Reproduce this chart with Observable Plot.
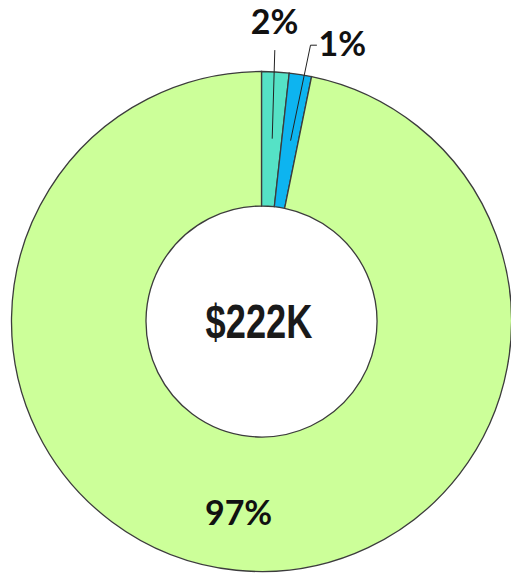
<!DOCTYPE html>
<html><head><meta charset="utf-8">
<script src="https://cdn.jsdelivr.net/npm/d3@7"></script>
<script src="https://cdn.jsdelivr.net/npm/@observablehq/plot@0.6"></script>
<style>html,body{margin:0;padding:0;background:#fff;overflow:hidden}</style>
</head><body><div id="chart"></div>
<script>
// ---- data ----
const categories = ["Segment A", "Segment B", "Segment C"];
const shares = [1.77, 1.44, 96.79];           // percent of total
const colors = ["#55e2c6", "#0db4f0", "#ccff99"];
const totalLabel = "$222K";

// ---- layout ----
const W = 511, H = 573;
const cx = 261.5, cy = 321.5, R = 250, r = 115.5;

const data = categories.map((c, i) => ({cat: c, value: shares[i], label: Math.round(shares[i]) + "%"}));
const color = Plot.scale({color: {type: "ordinal", domain: categories, range: colors}});
const pie = d3.pie().value(d => d.value).sort(null)(data);
const arc = d3.arc().innerRadius(r).outerRadius(R);
const mid = p => (p.startAngle + p.endAngle) / 2;
const polar = (a, rad) => [cx + rad * Math.sin(a), cy - rad * Math.cos(a)];

function donut() {
  const g = d3.create("svg:g").attr("transform", `translate(${cx},${cy})`);
  g.selectAll("path").data(pie).join("path")
    .attr("d", arc)
    .attr("fill", d => color.apply(d.data.cat))
    .attr("stroke", "#3c3c3c")
    .attr("stroke-width", 1.3);
  return g.node();
}

// big slice label near its centroid, small slices labelled above with leaders
const big = pie[2];
const [bx, by] = polar(mid(big), 193);
const innerLabels = [{x: bx, y: by, text: big.data.label}];

const a0 = polar(mid(pie[0]), 184);
const a1 = polar(mid(pie[1]), 184);
const leaders = [
  {id: 0, x: a0[0], y: a0[1]}, {id: 0, x: 274.3, y: 50},
  {id: 1, x: a1[0], y: a1[1]}, {id: 1, x: 310, y: 44.7}, {id: 1, x: 316, y: 44.7}
];
const outerLabels = [
  {x: 274, y: 23, text: pie[0].data.label, anchor: "middle"},
  {x: 318, y: 45, text: pie[1].data.label, anchor: "start"}
];

const pctFont = {fontFamily: "Lato", fontWeight: "bold", fontSize: 34, fill: "#111"};

const chart = Plot.plot({
  width: W, height: H,
  margin: 0,
  x: {type: "identity", axis: null},
  y: {type: "identity", axis: null},
  style: {background: "white", overflow: "visible"},
  marks: [
    donut,
    Plot.line(leaders, {x: "x", y: "y", z: "id", stroke: "#222", strokeWidth: 1}),
    Plot.text(innerLabels, {x: "x", y: "y", text: "text", dx: -4, ...pctFont}),
    Plot.text(outerLabels.filter(d => d.anchor === "middle"), {x: "x", y: "y", text: "text", textAnchor: "middle", ...pctFont}),
    Plot.text(outerLabels.filter(d => d.anchor === "start"), {x: "x", y: "y", text: "text", textAnchor: "start", ...pctFont}),
    Plot.text([{x: 258.5, y: 322, text: totalLabel}], {x: "x", y: "y", text: "text", fontFamily: "Liberation Sans", fontWeight: "bold", fontSize: 49, fill: "#1a1a1a"})
  ]
});
document.getElementById("chart").append(chart);

// condense the centre total label horizontally (Impact-like look)
d3.select(chart).selectAll("text")
  .filter(function() { return this.textContent === totalLabel; })
  .each(function() {
    const t = d3.select(this);
    const prev = t.attr("transform") || "";
    t.attr("transform", `translate(258.5,0) scale(0.74,1) translate(-258.5,0) ${prev}`)
     .style("font-weight", "900");
  });
</script>
</body></html>
